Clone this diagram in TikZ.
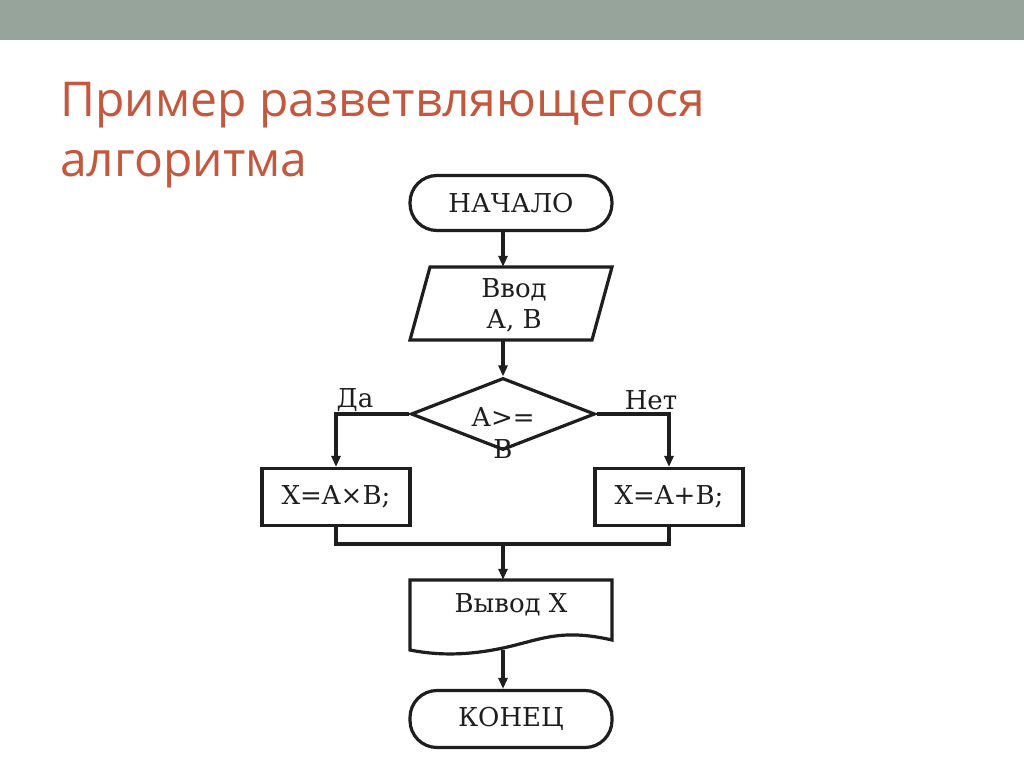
\documentclass[tikz,border=0pt]{standalone}
\usepackage{fontspec}
\setmainfont{DejaVu Serif}
\newfontfamily\titlefont{Open Sans}
\usetikzlibrary{shapes.geometric,arrows.meta}
\definecolor{barc}{RGB}{150,164,156}
\definecolor{titlec}{RGB}{196,88,62}
\definecolor{linec}{RGB}{30,30,30}
\tikzset{
  fc/.style={draw=linec,line width=3.2pt},
  txt/.style={font=\fontsize{26}{31}\selectfont,text=linec},
  arr/.style={line width=3.2pt,draw=linec,-{Triangle[length=11pt,width=9pt]}},
  ln/.style={line width=3.2pt,draw=linec},
}
\begin{document}
\begin{tikzpicture}[x=1pt,y=-1pt]
\useasboundingbox (0,0) rectangle (1024,768);
\fill[white] (0,0) rectangle (1024,768);
\fill[barc] (0,0) rectangle (1024,40);
\node[anchor=west,text=titlec,font=\titlefont\fontsize{48}{60}\selectfont,align=left,inner sep=0] (title) at (60,135) {Пример разветвляющегося\\алгоритма};
% start
\node[fc,rounded corners=27pt,minimum width=202,minimum height=55,txt] (start) at (511,203) {НАЧАЛО};
% input
\draw[fc] (430,267) -- (612,267) -- (592,340) -- (410,340) -- cycle;
\node[minimum width=182,minimum height=73,inner sep=0] (inp) at (511,303.5) {};
\node[txt,align=center] (inptxt) at (514,305) {Ввод\\А, В};
% decision
\node[fc,diamond,minimum width=184,minimum height=72,inner sep=0] (dec) at (503,414) {};
\node[txt] (d1) at (503,417) {А>=};
\node[txt] (d2) at (503,449) {В};
% branches
\node[fc,minimum width=148,minimum height=57,txt] (left) at (336,497) {X=A×B;};
\node[fc,minimum width=148,minimum height=57,txt] (right) at (669,497) {X=A+B;};
\node[txt] (yes) at (355,400) {Да};
\node[txt] (no) at (651,400) {Нет};
\coordinate (jm) at (503,544);
% output document
\draw[fc] (410,580) -- (612,580) -- (612,640) .. controls (560,628) and (540,640) .. (503,648) .. controls (470,655) and (440,656) .. (410,650) -- cycle;
\node[minimum width=202,minimum height=70,inner sep=0] (out) at (511,615) {};
\node[txt] (outtxt) at (511,605) {Вывод X};
% end
\node[fc,rounded corners=27pt,minimum width=202,minimum height=57,txt] (end) at (511,719) {КОНЕЦ};
% connectors
\draw[arr] (start.south -| 503,0) -- (inp.north -| 503,0);
\draw[arr] (inp.south -| 503,0) -- (dec.north);
\draw[arr] (dec.west) -| (left.north);
\draw[arr] (dec.east) -| (right.north);
\draw[ln] (left.south) |- (jm) -| (right.south);
\draw[arr] (jm) -- (out.north -| jm);
\draw[arr] (503,650) -- (end.north -| 503,0);
\end{tikzpicture}
\end{document}
